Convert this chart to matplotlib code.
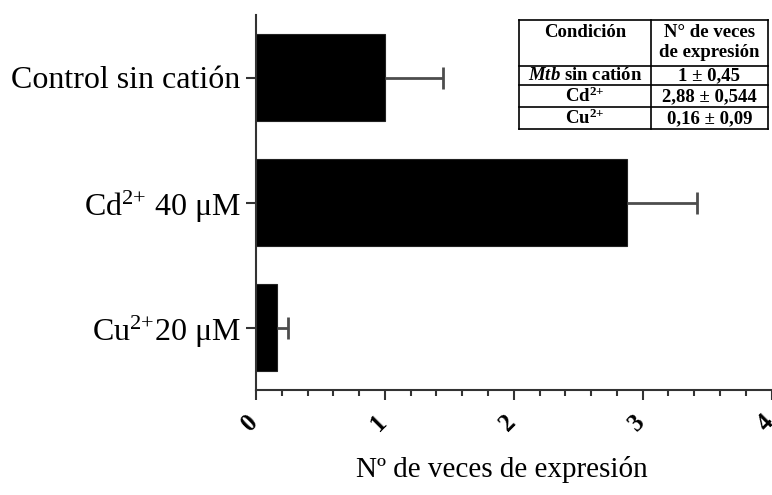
import matplotlib
matplotlib.use("Agg")
import matplotlib.pyplot as plt
import numpy as np

plt.rcParams['font.family'] = ['Liberation Serif', 'DejaVu Serif']
plt.rcParams['mathtext.fontset'] = 'custom'
plt.rcParams['mathtext.rm'] = 'Liberation Serif'
plt.rcParams['mathtext.it'] = 'Liberation Serif:italic:bold'
plt.rcParams['mathtext.bf'] = 'Liberation Serif:bold'

# data
categories = ["Control sin catión", "Cd$^{2{+}}$ 40 μM", "Cu$^{2{+}}$20 μM"]
values = [1.0, 2.88, 0.16]
errors = [0.45, 0.544, 0.09]
xticks = [0, 1, 2, 3, 4]

table_header = ["Condición", "N° de veces\nde expresión"]
table_cond = [r"$\mathit{Mtb}$ sin catión", r"Cd$^{\mathbf{2{+}}}$", r"Cu$^{\mathbf{2{+}}}$"]
table_vals = ["1 ± 0,45", "2,88 ± 0,544", "0,16 ± 0,09"]

W, H = 772, 495
fig = plt.figure(figsize=(W / 100, H / 100), dpi=100)
ax = fig.add_axes([256 / W, 1 - 390 / H, (771.5 - 256) / W, (390 - 15) / H])

y = np.arange(len(categories))
ax.barh(y, values, height=0.69, color='black', edgecolor='#222222', linewidth=0.8)
eb = ax.errorbar(values, y, xerr=[np.zeros(len(errors)), errors], fmt='none',
                 ecolor='#4d4d4d', elinewidth=2, capsize=8, capthick=2)
eb[1][0].set_visible(False)  # no cap on the bar side

ax.set_ylim(2.5, -0.5)
ax.set_xlim(0, 4)
ax.set_yticks(y)
ax.set_yticklabels(categories, fontsize=23)
ax.set_xticks(xticks)
ax.set_xticklabels([])
# rotated digits, drawn by hand so they can sit a bit left of the ticks
for t in xticks:
    ax.annotate(str(t), xy=(t, 0), xycoords=ax.get_xaxis_transform(),
                xytext=(-6, -33), textcoords='offset pixels', rotation=45,
                ha='center', va='center', fontsize=18, fontweight='bold',
                annotation_clip=False)
ax.set_xticks(np.arange(0, 4.01, 0.2), minor=True)
ax.tick_params(axis='y', length=7, width=1.5, pad=4, color='#333333')
ax.tick_params(axis='x', which='major', length=7, width=1.5, color='#333333')
ax.tick_params(axis='x', which='minor', length=4, width=1.5, color='#333333')
ax.set_xlabel("Nº de veces de expresión", fontsize=21)
ax.xaxis.set_label_coords((502 - 256) / (771.5 - 256), -0.175)

for s in ['top', 'right']:
    ax.spines[s].set_visible(False)
for s in ['left', 'bottom']:
    ax.spines[s].set_linewidth(1.5)
    ax.spines[s].set_color('#333333')

# table in the upper right
tx0, tx1, ty0, ty1 = 519, 768, 20, 129
tab = fig.add_axes([tx0 / W, 1 - ty1 / H, (tx1 - tx0) / W, (ty1 - ty0) / H])
tab.set_xlim(0, tx1 - tx0)
tab.set_ylim(ty1 - ty0, 0)
tab.axis('off')
col_x = [0, 132, tx1 - tx0]
row_y = [0, 46, 65, 87, ty1 - ty0]
for xx in col_x:
    tab.plot([xx, xx], [row_y[0], row_y[-1]], color='black', lw=1.2, clip_on=False)
for yy in row_y:
    tab.plot([col_x[0], col_x[-1]], [yy, yy], color='black', lw=1.2, clip_on=False)

fs = 13.5
tab.text((col_x[0] + col_x[1]) / 2, 4, table_header[0], ha='center', va='top',
         fontsize=fs, fontweight='bold')
tab.text((col_x[1] + col_x[2]) / 2, 4, table_header[1], ha='center', va='top',
         fontsize=fs, fontweight='bold', linespacing=1.2)
for i in range(len(table_cond)):
    yc = (row_y[i + 1] + row_y[i + 2]) / 2 + 0.5
    tab.text((col_x[0] + col_x[1]) / 2, yc, table_cond[i], ha='center', va='center',
             fontsize=fs, fontweight='bold')
    tab.text((col_x[1] + col_x[2]) / 2, yc, table_vals[i], ha='center', va='center',
             fontsize=fs, fontweight='bold')

fig.savefig("out.png", dpi=100)
